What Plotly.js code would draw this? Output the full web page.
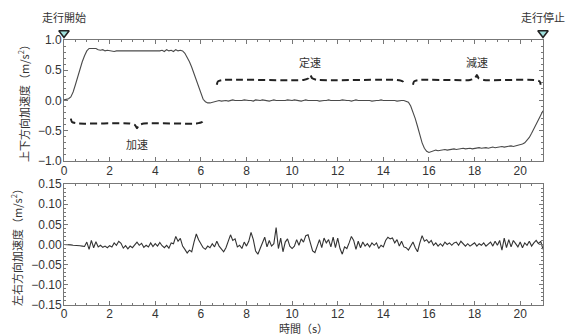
<!DOCTYPE html>
<html><head><meta charset="utf-8">
<script src="https://cdn.plot.ly/plotly-3.0.1.min.js"></script>
<style>html,body{margin:0;padding:0;background:#fff}#chart{width:570px;height:336px}</style>
</head><body><div id="chart"></div>
<script>
// time samples (s)
const time = [0,0.1,0.2,0.3,0.4,0.5,0.6,0.7,0.8,0.9,1,1.1,1.2,1.3,1.4,1.5,1.6,1.7,1.8,1.9,2,2.1,2.2,2.3,2.4,2.5,2.6,2.7,2.8,2.9,3,3.1,3.2,3.3,3.4,3.5,3.6,3.7,3.8,3.9,4,4.1,4.2,4.3,4.4,4.5,4.6,4.7,4.8,4.9,5,5.1,5.2,5.3,5.4,5.5,5.6,5.7,5.8,5.9,6,6.1,6.2,6.3,6.4,6.5,6.6,6.7,6.8,6.9,7,7.1,7.2,7.3,7.4,7.5,7.6,7.7,7.8,7.9,8,8.1,8.2,8.3,8.4,8.5,8.6,8.7,8.8,8.9,9,9.1,9.2,9.3,9.4,9.5,9.6,9.7,9.8,9.9,10,10.1,10.2,10.3,10.4,10.5,10.6,10.7,10.8,10.9,11,11.1,11.2,11.3,11.4,11.5,11.6,11.7,11.8,11.9,12,12.1,12.2,12.3,12.4,12.5,12.6,12.7,12.8,12.9,13,13.1,13.2,13.3,13.4,13.5,13.6,13.7,13.8,13.9,14,14.1,14.2,14.3,14.4,14.5,14.6,14.7,14.8,14.9,15,15.1,15.2,15.3,15.4,15.5,15.6,15.7,15.8,15.9,16,16.1,16.2,16.3,16.4,16.5,16.6,16.7,16.8,16.9,17,17.1,17.2,17.3,17.4,17.5,17.6,17.7,17.8,17.9,18,18.1,18.2,18.3,18.4,18.5,18.6,18.7,18.8,18.9,19,19.1,19.2,19.3,19.4,19.5,19.6,19.7,19.8,19.9,20,20.1,20.2,20.3,20.4,20.5,20.6,20.7,20.8,20.9,21];

// vertical acceleration (m/s^2)
const vertical = [
0.01,0.02,0.03,0.06,0.14,0.26,0.40,0.53,0.64,0.74,
0.82,0.86,0.86,0.85,0.86,0.84,0.83,0.84,0.82,0.83,
0.82,0.82,0.81,0.82,0.82,0.81,0.82,0.82,0.81,0.82,
0.82,0.81,0.82,0.82,0.81,0.82,0.82,0.81,0.82,0.82,
0.81,0.82,0.82,0.83,0.81,0.84,0.82,0.83,0.81,0.84,
0.82,0.83,0.82,0.78,0.72,0.64,0.55,0.44,0.33,0.21,
0.10,0.02,-0.02,-0.04,-0.04,-0.03,-0.02,-0.01,0.00,-0.01,
0.00,0.00,-0.01,0.00,0.01,0.00,0.00,-0.01,0.00,0.01,
0.00,0.00,0.00,-0.01,0.01,0.00,0.00,0.01,0.00,0.00,
-0.01,0.00,0.01,0.00,0.00,0.00,-0.01,0.00,0.01,0.00,
0.00,0.01,0.00,0.00,-0.01,0.00,0.01,0.00,0.00,0.00,
0.01,0.00,-0.01,0.00,0.00,0.00,0.01,0.00,0.00,-0.01,
0.00,0.00,0.01,0.00,0.00,0.00,-0.01,0.00,0.01,0.00,
0.00,0.00,0.00,0.01,0.00,-0.01,0.00,0.00,0.00,0.01,
0.00,0.00,0.00,0.01,0.00,0.00,-0.01,0.00,0.00,0.00,
-0.01,-0.03,-0.09,-0.18,-0.30,-0.43,-0.57,-0.70,-0.79,-0.84,
-0.86,-0.85,-0.84,-0.82,-0.83,-0.82,-0.82,-0.81,-0.82,-0.81,
-0.81,-0.80,-0.81,-0.80,-0.80,-0.79,-0.80,-0.79,-0.79,-0.80,
-0.79,-0.79,-0.78,-0.79,-0.78,-0.78,-0.79,-0.78,-0.77,-0.78,
-0.77,-0.77,-0.76,-0.77,-0.76,-0.76,-0.75,-0.76,-0.75,-0.74,
-0.74,-0.72,-0.70,-0.66,-0.61,-0.54,-0.47,-0.39,-0.31,-0.24,
-0.17];

// lateral acceleration (m/s^2)
const lateral = [
0.000,0.000,-0.001,-0.001,-0.002,-0.002,-0.003,-0.003,-0.004,-0.005,
0.006,-0.012,0.010,-0.008,0.007,-0.006,-0.002,-0.007,-0.004,-0.008,
-0.003,-0.006,0.004,-0.002,0.008,0.003,-0.009,-0.003,-0.011,-0.004,
-0.008,0.000,0.006,-0.002,0.003,-0.007,-0.002,-0.006,0.004,-0.005,
0.002,-0.004,0.005,-0.003,-0.008,-0.002,-0.009,0.004,0.002,0.020,
0.008,0.015,-0.004,-0.012,-0.021,-0.014,-0.018,0.006,0.026,0.012,
0.003,-0.008,-0.012,-0.004,-0.008,0.002,-0.006,0.008,-0.004,-0.010,
-0.018,-0.008,0.006,0.024,0.010,0.014,-0.006,-0.002,-0.010,0.006,
-0.004,0.008,0.030,0.012,-0.016,-0.024,-0.010,0.004,0.018,-0.006,
0.010,-0.004,0.002,0.042,-0.010,0.016,-0.018,0.006,0.014,-0.004,
-0.010,-0.004,0.012,-0.002,0.014,0.006,0.022,0.024,0.004,-0.016,
-0.020,-0.006,0.012,-0.008,0.016,0.004,0.012,-0.006,0.018,-0.008,
0.016,-0.010,-0.024,-0.006,-0.010,0.004,0.020,0.010,-0.012,0.008,
-0.008,0.006,-0.004,0.002,-0.006,0.004,-0.002,0.004,-0.010,-0.002,
-0.006,0.010,0.018,0.014,0.016,0.004,0.012,-0.004,0.008,-0.006,
-0.008,-0.014,-0.004,0.006,-0.008,-0.018,0.004,0.022,0.008,0.012,
0.004,0.010,-0.002,0.004,-0.004,0.002,-0.004,0.006,0.000,0.004,
-0.002,0.004,0.006,-0.002,0.008,0.002,-0.004,0.002,-0.004,0.000,
0.004,-0.004,0.002,-0.002,0.004,-0.004,0.002,0.006,-0.004,0.008,
-0.002,0.010,-0.014,0.016,-0.008,0.012,-0.006,0.010,0.002,-0.006,
0.006,-0.008,0.004,-0.002,0.008,-0.004,0.004,0.010,0.002,0.008,
-0.012];

const xTicks = [0,2,4,6,8,10,12,14,16,18,20];
const eventTimes = [0, 21];
const eventLabels = ['走行開始', '走行停止'];
const phaseLabels = ['加速', '定速', '減速'];
const phaseStart = [0.3, 6.7, 15.3];
const phaseEnd = [6.1, 14.9, 20.9];
const phaseTip = [3.2, 10.8, 18.1];
const phaseLevel = [-0.38, 0.34, 0.34];
const phaseDir = [-1, 1, 1];
const phaseLabelY = [-0.72, 0.64, 0.64];

const FONT = 'Liberation Sans, Arial, "Noto Sans CJK JP", sans-serif';
const JFONT = '"Noto Sans CJK JP", sans-serif';

const traces = [
  {x: time, y: vertical, xaxis:'x', yaxis:'y', mode:'lines', line:{color:'#4a4a4a', width:1.1}, hoverinfo:'skip'},
  {x: time, y: lateral, xaxis:'x2', yaxis:'y2', mode:'lines', line:{color:'#333', width:1.1}, hoverinfo:'skip'}
];

// braces
for (let i = 0; i < phaseLabels.length; i++) {
  const a = phaseStart[i], b = phaseEnd[i], m = phaseTip[i], y = phaseLevel[i], d = phaseDir[i], h = 0.08;
  const xs = [a, a+0.05, a+0.3, m-0.3, m-0.08, m, m+0.08, m+0.3, b-0.3, b-0.05, b];
  const ys = [y-d*h, y-d*h*0.3, y, y, y+d*h*0.35, y+d*h, y+d*h*0.35, y, y, y-d*h*0.3, y-d*h];
  traces.push({x: xs, y: ys, xaxis:'x', yaxis:'y', mode:'lines', line:{color:'#222', width:2, dash:'7px,4px', shape:'spline', smoothing:0.6}, hoverinfo:'skip', cliponaxis:false});
}
// event markers (on an invisible strip axis above the top panel)
traces.push({x: eventTimes, y: [0.35, 0.35], xaxis:'x', yaxis:'y3', mode:'markers', cliponaxis:false,
  marker:{symbol:'triangle-down', size:9, color:'#9fe0dc', line:{color:'#222', width:1.5}}, hoverinfo:'skip'});

const annotations = [];
for (let i = 0; i < phaseLabels.length; i++) {
  annotations.push({x: phaseTip[i], y: phaseLabelY[i], xref:'x', yref:'y', text: phaseLabels[i], showarrow:false,
    font:{family: JFONT, size:11, color:'#333'}});
}
for (let i = 0; i < eventTimes.length; i++) {
  annotations.push({x: eventTimes[i], y: 0.9754, xref:'x', yref:'paper', yanchor:'bottom', text: eventLabels[i], showarrow:false,
    font:{family: JFONT, size:11, color:'#333'}});
}

const axBase = {showgrid:false, zeroline:false, showline:true, linecolor:'#777', linewidth:1, mirror:'ticks',
  ticks:'inside', ticklen:4, tickcolor:'#777', ticklabelstandoff:-1, tickfont:{family: FONT, size:12, color:'#333'}};

const layout = {
  width:570, height:336, margin:{l:64, r:27, t:20, b:31}, showlegend:false,
  paper_bgcolor:'#fff', plot_bgcolor:'#fff', font:{family: FONT},
  xaxis: Object.assign({}, axBase, {domain:[0,1], anchor:'y', range:[0,21], tickvals: xTicks,
    minor:{dtick:0.5, ticks:'inside', ticklen:2, tickcolor:'#777'}}),
  yaxis: Object.assign({}, axBase, {domain:[0.5053,0.9298], anchor:'x', range:[-1,1], dtick:0.5, tickformat:'.1f',
    minor:{dtick:0.1, ticks:'inside', ticklen:2, tickcolor:'#777'},
    title:{text:'上下方向加速度（m/s<sup>2</sup>）', font:{family: JFONT, size:11, color:'#333'}, standoff:6}}),
  yaxis3: {domain:[0.9298,1], anchor:'x', range:[0,1], visible:false, fixedrange:true},
  xaxis2: Object.assign({}, axBase, {domain:[0,1], anchor:'y2', range:[0,21], tickvals: xTicks, ticklabelstandoff:-2,
    minor:{dtick:0.5, ticks:'inside', ticklen:2, tickcolor:'#777'},
    title:{text:'時間（s）', font:{family: JFONT, size:11, color:'#333'}, standoff:1}}),
  yaxis2: Object.assign({}, axBase, {domain:[0,0.4246], anchor:'x2', range:[-0.15,0.15], dtick:0.05, tickformat:'.2f',
    minor:{dtick:0.01, ticks:'inside', ticklen:2, tickcolor:'#777'},
    title:{text:'左右方向加速度（m/s<sup>2</sup>）', font:{family: JFONT, size:11, color:'#333'}, standoff:6}}),
  annotations: annotations
};

Plotly.newPlot('chart', traces, layout, {staticPlot:true, displayModeBar:false});
</script></body></html>
